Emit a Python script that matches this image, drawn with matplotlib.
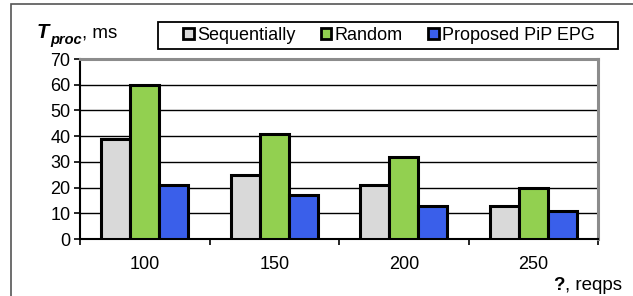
import numpy as np
import matplotlib.pyplot as plt
from matplotlib.patches import Patch, Rectangle

plt.rcParams["font.family"] = ["Liberation Sans", "DejaVu Sans"]

# Daten
rates = ["100", "150", "200", "250"]
sequentially = [39, 25, 21, 13]
random_sel = [60, 41, 32, 20]
proposed = [21, 17, 13, 11]

series_names = ["Sequentially", "Random", "Proposed PiP EPG"]
colors = ["#D9D9D9", "#92D050", "#3A5FEA"]

W, H = 633, 296
fig = plt.figure(figsize=(W / 100, H / 100), dpi=100)


def px(xp, yp):
    """Pixelkoordinaten (oben links) -> Figure-Koordinaten."""
    return xp / W, (H - yp) / H


# aeusserer Rahmen (nach rechts/unten abgeschnitten)
fig.patches.append(Rectangle((11 / W, -0.1), 1.2, (H - 4) / H + 0.1,
                             transform=fig.transFigure, fill=False,
                             edgecolor="#555555", linewidth=1.2))

left, right, top, bot = 80, 598, 59, 239
ax = fig.add_axes([left / W, (H - bot) / H, (right - left) / W, (bot - top) / H])

x = np.arange(len(rates))
bw = 0.225
for i, (vals, c, name) in enumerate(zip([sequentially, random_sel, proposed], colors, series_names)):
    ax.bar(x + (i - 1) * bw, vals, bw, color=c, edgecolor="black",
           linewidth=2.2, label=name, zorder=3)

ax.set_xlim(-0.5, len(rates) - 0.5)
ax.set_ylim(0, 70)
ax.set_yticks(range(0, 71, 10))
ax.yaxis.grid(True, color="black", linewidth=1.0, zorder=0)
ax.set_axisbelow(True)

ax.set_xticks(x)
ax.set_xticklabels(rates)
ax.set_xticks(np.arange(-0.5, len(rates), 1), minor=True)
ax.tick_params(axis="x", which="major", length=0, pad=12, labelsize=13)
ax.tick_params(axis="x", which="minor", length=4, width=1.2, direction="out")
ax.tick_params(axis="y", length=4, width=1.2, pad=3, labelsize=13)

for s in ["left", "bottom"]:
    ax.spines[s].set_color("black")
    ax.spines[s].set_linewidth(1.5)
for s in ["top", "right"]:
    ax.spines[s].set_color("#8C8C8C")
    ax.spines[s].set_linewidth(2.2)

# Legende: Rahmen separat, Eintraege ohne Rahmen
fig.patches.append(Rectangle(px(158, 49), (618 - 158) / W, 27 / H,
                             transform=fig.transFigure, fill=False,
                             edgecolor="black", linewidth=1.3))
handles = [Patch(facecolor=c, edgecolor="black", linewidth=2) for c in colors]
fig.legend(handles, series_names, loc="center left",
           bbox_to_anchor=px(183, 35.5), ncol=3,
           fontsize=13, frameon=False,
           handlelength=0.6, handleheight=0.6, handletextpad=0.17,
           columnspacing=1.4, borderpad=0, borderaxespad=0)

# Achsenbeschriftungen
fig.canvas.draw()
r = fig.canvas.get_renderer()

t1 = fig.text(*px(37, 33), "T", fontsize=14.5, fontweight="bold",
              fontstyle="italic", va="center")
x1 = t1.get_window_extent(r).x1
t2 = fig.text(x1 / W + 0.001, (H - 40) / H, "proc", fontsize=10.5,
              fontweight="bold", fontstyle="italic", va="center")
x2 = t2.get_window_extent(r).x1
fig.text(x2 / W, (H - 33) / H, ", ms", fontsize=13.5, va="center")

t3 = fig.text(*px(622, 285), ", reqps", fontsize=13.5, va="center", ha="right")
x3 = t3.get_window_extent(r).x0
fig.text(x3 / W, (H - 285) / H, "?", fontsize=13.5, fontweight="bold",
         va="center", ha="right")

fig.savefig("out.png", dpi=100)
